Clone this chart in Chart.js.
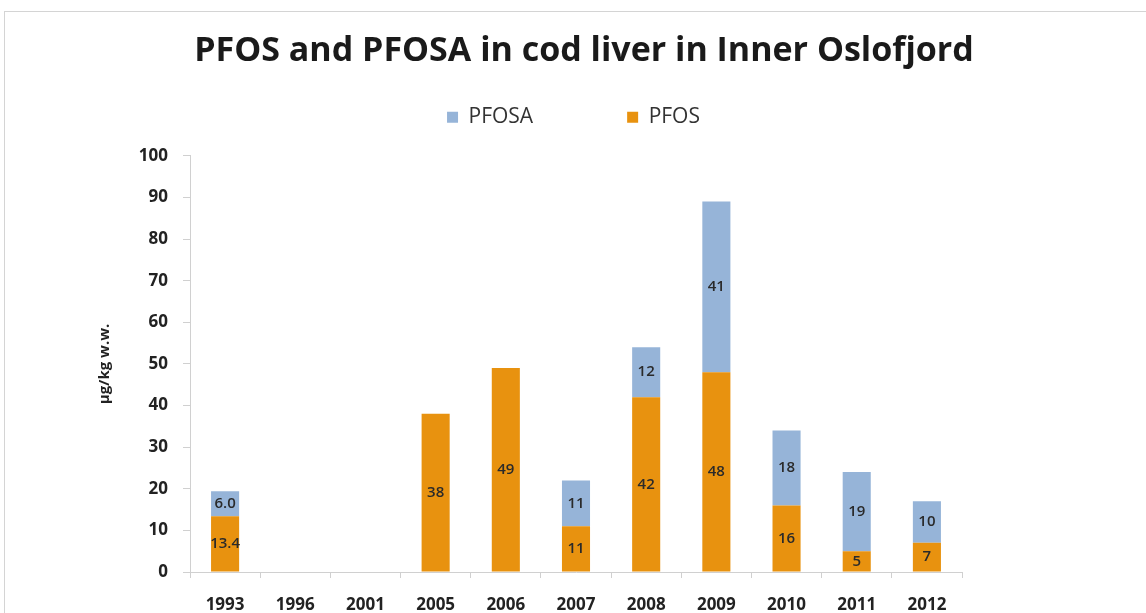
<!DOCTYPE html>
<html>
<head>
<meta charset="utf-8">
<script src="https://cdn.jsdelivr.net/npm/chart.js@4.4.1/dist/chart.umd.min.js"></script>
<style>
  html, body { margin: 0; padding: 0; background: #fff; overflow: hidden; }
  #wrap { position: relative; width: 1146px; height: 613px; }
  #frame { position: absolute; left: 4px; top: 11px; width: 1200px; height: 700px; border: 1px solid #d4d4d4; }
  canvas { position: absolute; left: 0; top: 0; }
</style>
</head>
<body>
<div id="wrap">
  <div id="frame"></div>
  <canvas id="chart" width="1146" height="613"></canvas>
</div>
<script>
// 年份
const years = ["1993", "1996", "2001", "2005", "2006", "2007", "2008", "2009", "2010", "2011", "2012"];
// PFOS (底部, 橙色)
const pfos = [13.4, null, null, 38, 49, 11, 42, 48, 16, 5, 7];
// PFOSA (顶部, 蓝色)
const pfosa = [6.0, null, null, null, null, 11, 12, 41, 18, 19, 10];
// 柱内显示的文字
const pfosLabels = ["13.4", "", "", "38", "49", "11", "42", "48", "16", "5", "7"];
const pfosaLabels = ["6.0", "", "", "", "", "11", "12", "41", "18", "19", "10"];
// y 轴刻度
const yTicks = [0, 10, 20, 30, 40, 50, 60, 70, 80, 90, 100];

const FONT = "'Open Sans', Lato, sans-serif";

// 简单的柱内标签插件（没有 datalabels 插件可用）
const barLabels = {
  id: "barLabels",
  afterDatasetsDraw(chart) {
    const ctx = chart.ctx;
    ctx.save();
    ctx.font = "600 15px " + FONT;
    ctx.fillStyle = "#2a2a2a";
    ctx.textAlign = "center";
    ctx.textBaseline = "middle";
    chart.data.datasets.forEach((ds, di) => {
      const meta = chart.getDatasetMeta(di);
      meta.data.forEach((bar, i) => {
        const txt = ds.labelTexts[i];
        if (!txt || ds.data[i] == null) return;
        ctx.fillText(txt, bar.x, (bar.y + bar.base) / 2);
      });
    });
    ctx.restore();
  }
};

new Chart(document.getElementById("chart").getContext("2d"), {
  type: "bar",
  data: {
    labels: years,
    datasets: [
      {
        label: "PFOS",
        data: pfos,
        labelTexts: pfosLabels,
        backgroundColor: "#E8920F",
        barPercentage: 0.4,
        categoryPercentage: 1.0
      },
      {
        label: "PFOSA",
        data: pfosa,
        labelTexts: pfosaLabels,
        backgroundColor: "#96B4D8",
        barPercentage: 0.4,
        categoryPercentage: 1.0
      }
    ]
  },
  options: {
    responsive: false,
    animation: false,
    layout: { padding: { left: 22, right: 0, top: 0, bottom: 0 } },
    plugins: {
      title: {
        display: true,
        text: "PFOS and PFOSA in cod liver in Inner Oslofjord",
        color: "#1a1a1a",
        font: { family: FONT, size: 34, weight: "bold" },
        padding: { top: 31, bottom: 25 }
      },
      legend: {
        reverse: true,
        labels: {
          color: "#333",
          font: { family: FONT, size: 21 },
          boxWidth: 11,
          boxHeight: 11,
          padding: 10,
          // 图例两项之间留出较大空隙，整体略向左
          generateLabels: (chart) => {
            const items = Chart.defaults.plugins.legend.labels.generateLabels(chart);
            items.forEach((it) => {
              if (it.text === "PFOSA") it.text = "PFOSA\u2003\u2003\u2003\u2003";
              else it.text = it.text + "\u2003";
            });
            return items;
          }
        }
      },
      tooltip: { enabled: false }
    },
    scales: {
      x: {
        stacked: true,
        grid: { offset: true, drawOnChartArea: false, tickLength: 6, color: "#d0d0d0" },
        border: { color: "#d0d0d0" },
        ticks: { color: "#222", padding: 17, font: { family: FONT, size: 17, weight: "bold" } },
        afterFit: (s) => { s.height = 41; }
      },
      // 图例与绘图区之间留白用的空轴
      xTop: {
        position: "top",
        display: true,
        grid: { display: false },
        border: { display: false },
        ticks: { display: false },
        afterFit: (s) => { s.height = 18; }
      },
      y: {
        stacked: true,
        min: 0,
        max: 100,
        afterBuildTicks: (s) => { s.ticks = yTicks.map((v) => ({ value: v })); },
        grid: { drawOnChartArea: false, tickLength: 7, color: "#d0d0d0" },
        border: { color: "#d0d0d0" },
        ticks: { color: "#222", padding: 15, font: { family: FONT, size: 17, weight: "bold" } },
        title: {
          display: true,
          text: "µg/kg w.w.",
          color: "#222",
          font: { family: FONT, size: 15, weight: "bold" },
          padding: { top: 74, bottom: 0 }
        },
        afterFit: (s) => { s.width = 168; }
      },
      // 右侧留白用的空轴
      yRight: {
        position: "right",
        display: true,
        grid: { display: false },
        border: { display: false },
        ticks: { display: false },
        afterFit: (s) => { s.width = 184; }
      }
    }
  },
  plugins: [barLabels]
});
</script>
</body>
</html>
